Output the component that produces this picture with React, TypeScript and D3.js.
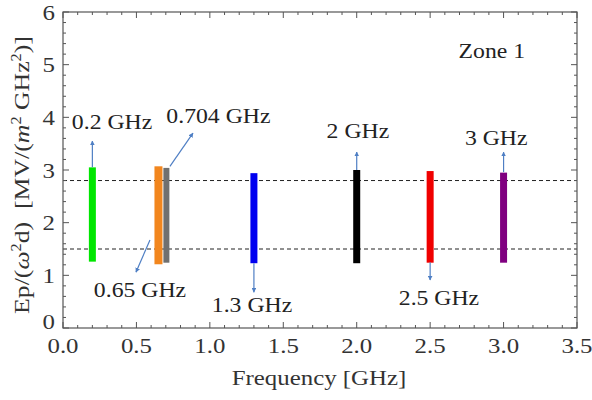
import { useEffect, useRef } from 'react'
import * as d3 from 'd3'

// frequencies (GHz) of each bar, and min/max of Ep/(w^2 d)
const freqs = [0.2, 0.65, 0.704, 1.3, 2.0, 2.5, 3.0]
const lows = [1.26, 1.21, 1.24, 1.23, 1.23, 1.24, 1.24]
const highs = [3.05, 3.07, 3.04, 2.94, 3.0, 2.98, 2.95]
const colors = ['#00e600', '#f2861e', '#707070', '#0000f0', '#000000', '#f00000', '#800080']
const widths = [7, 8, 6, 7, 7, 7, 7]

// dashed reference levels
const levels = [1.5, 2.8]

// annotation labels and arrows (data units)
const labels = ['0.2 GHz', '0.65 GHz', '0.704 GHz', '1.3 GHz', '2 GHz', '2.5 GHz', '3 GHz']
const labelX = [0.334, 0.524, 1.058, 1.287, 2.008, 2.56, 2.95]
const labelY = [3.78, 0.59, 3.89, 0.30, 3.61, 0.44, 3.47]
const arrowFrom = [[0.2, 3.05], [0.592, 1.67], [0.728, 3.07], [1.3, 1.23], [2.0, 3.0], [2.5, 1.25], [3.0, 2.96]]
const arrowTo = [[0.2, 3.55], [0.497, 1.06], [0.885, 3.7], [1.3, 0.68], [2.0, 3.34], [2.5, 0.91], [3.0, 3.34]]

const xTicks = [0, 0.5, 1, 1.5, 2, 2.5, 3, 3.5]
const yTicks = [0, 1, 2, 3, 4, 5, 6]

function App() {
    const svg = useRef<SVGSVGElement>(null)

    useEffect(() => {
        const W = 592, H = 400
        const left = 63, right = 577, top = 12, bottom = 328
        const font = '"Liberation Serif", "Times New Roman", serif'
        const frameColor = '#555'
        const stretch = 1.13 // the reference type is a bit wider than Times

        const x = d3.scaleLinear().domain([0, 3.5]).range([left, right])
        const y = d3.scaleLinear().domain([0, 6]).range([bottom, top])

        const root = d3.select(svg.current)
            .attr('width', W)
            .attr('height', H)
            .style('font-family', font)
        root.selectAll('*').remove()

        const defs = root.append('defs')
        defs.append('marker')
            .attr('id', 'head')
            .attr('viewBox', '0 0 10 10')
            .attr('refX', 9)
            .attr('refY', 5)
            .attr('markerWidth', 4)
            .attr('markerHeight', 4)
            .attr('orient', 'auto')
            .append('path')
            .attr('d', 'M0,0 L10,5 L0,10 Z')
            .attr('fill', '#4f7fc4')

        root.append('rect').attr('width', W).attr('height', H).attr('fill', 'white')

        const g = root.append('g')

        // dashed lines
        g.selectAll('line.level')
            .data(levels)
            .join('line')
            .attr('class', 'level')
            .attr('x1', left).attr('x2', right)
            .attr('y1', d => y(d)).attr('y2', d => y(d))
            .attr('stroke', '#222')
            .attr('stroke-width', 1)
            .attr('stroke-dasharray', '4,3')

        // bars
        g.selectAll('rect.bar')
            .data(freqs)
            .join('rect')
            .attr('class', 'bar')
            .attr('x', (d, i) => x(d) - widths[i] / 2)
            .attr('y', (d, i) => y(highs[i]))
            .attr('width', (d, i) => widths[i])
            .attr('height', (d, i) => y(lows[i]) - y(highs[i]))
            .attr('fill', (d, i) => colors[i])

        // arrows
        g.selectAll('line.arrow')
            .data(arrowFrom)
            .join('line')
            .attr('class', 'arrow')
            .attr('x1', d => x(d[0])).attr('y1', d => y(d[1]))
            .attr('x2', (d, i) => x(arrowTo[i][0])).attr('y2', (d, i) => y(arrowTo[i][1]))
            .attr('stroke', '#4f7fc4')
            .attr('stroke-width', 1.2)
            .attr('marker-end', 'url(#head)')

        // annotations
        g.selectAll('text.lab')
            .data(labels)
            .join('text')
            .attr('class', 'lab')
            .attr('transform', (d, i) => `translate(${x(labelX[i])},${y(labelY[i])}) scale(${stretch},1)`)
            .attr('text-anchor', 'middle')
            .attr('fill', '#222')
            .style('font-size', '21px')
            .text(d => d)

        g.append('text')
            .attr('transform', `translate(${x(2.92)},${y(5.13)}) scale(${stretch},1)`)
            .attr('text-anchor', 'middle')
            .attr('fill', '#222')
            .style('font-size', '21px')
            .text('Zone 1')

        // frame
        g.append('rect')
            .attr('x', left).attr('y', top)
            .attr('width', right - left).attr('height', bottom - top)
            .attr('fill', 'none')
            .attr('stroke', frameColor)
            .attr('stroke-width', 1.2)

        // ticks on all four sides
        const xMinor = d3.range(0, 3.5001, 0.1)
        const yMinor = d3.range(0, 6.0001, 0.2)
        const isMajor = (v: number, step: number) => Math.abs(v / step - Math.round(v / step)) < 1e-6
        const tk = g.append('g').attr('stroke', frameColor).attr('stroke-width', 1)
        xMinor.forEach(v => {
            const len = isMajor(v, 0.5) ? 6 : 3
            tk.append('line').attr('x1', x(v)).attr('x2', x(v)).attr('y1', bottom).attr('y2', bottom - len)
            tk.append('line').attr('x1', x(v)).attr('x2', x(v)).attr('y1', top).attr('y2', top + len)
        })
        yMinor.forEach(v => {
            const len = isMajor(v, 1) ? 6 : 3
            tk.append('line').attr('y1', y(v)).attr('y2', y(v)).attr('x1', left).attr('x2', left + len)
            tk.append('line').attr('y1', y(v)).attr('y2', y(v)).attr('x1', right).attr('x2', right - len)
        })

        // tick labels
        g.selectAll('text.xt')
            .data(xTicks)
            .join('text')
            .attr('class', 'xt')
            .attr('transform', d => `translate(${x(d)},${bottom + 25}) scale(${stretch},1)`)
            .attr('text-anchor', 'middle')
            .attr('fill', '#333')
            .style('font-size', '22px')
            .text(d => d3.format('.1f')(d))

        g.selectAll('text.yt')
            .data(yTicks)
            .join('text')
            .attr('class', 'yt')
            .attr('transform', d => `translate(${left - 8},${d === 0 ? y(d) - 7 : y(d)}) scale(${stretch},1)`)
            .attr('dy', '0.35em')
            .attr('text-anchor', 'end')
            .attr('fill', '#333')
            .style('font-size', '22px')
            .text(d => d)

        // axis titles
        g.append('text')
            .attr('transform', `translate(${(left + right) / 2 - 1},385) scale(${stretch},1)`)
            .attr('text-anchor', 'middle')
            .attr('fill', '#333')
            .style('font-size', '22px')
            .text('Frequency [GHz]')

        const yt = g.append('text')
            .attr('transform', `translate(29,${(top + bottom) / 2 + 5}) rotate(-90) scale(1.17,1)`)
            .attr('text-anchor', 'middle')
            .attr('fill', '#333')
            .style('font-size', '22px')
        yt.append('tspan').text('Ep/(')
        yt.append('tspan').style('font-style', 'italic').text('ω')
        yt.append('tspan').attr('dy', -8).style('font-size', '14px').text('2')
        yt.append('tspan').attr('dy', 8).text('d)\u00a0\u00a0[MV/(')
        yt.append('tspan').style('font-style', 'italic').text('m')
        yt.append('tspan').attr('dy', -8).style('font-size', '14px').text('2')
        yt.append('tspan').attr('dy', 8).text(' GHz')
        yt.append('tspan').attr('dy', -8).style('font-size', '14px').text('2')
        yt.append('tspan').attr('dy', 8).text(')]')
    }, [])

    return (
        <svg ref={svg} style={{ position: 'absolute', left: 0, top: 0 }}></svg>
    )
}

export default App
